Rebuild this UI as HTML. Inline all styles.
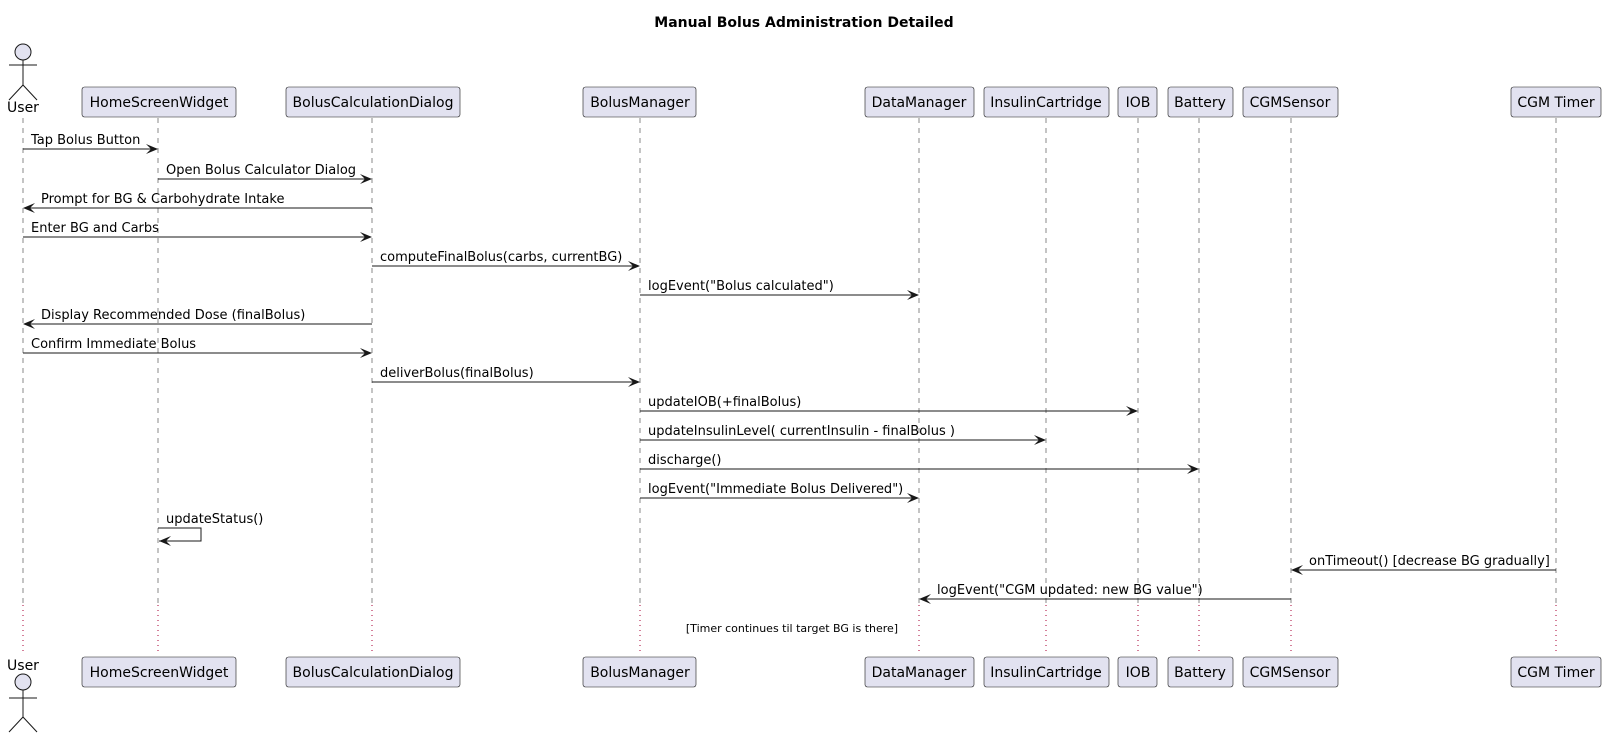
<!DOCTYPE html>
<html><head><meta charset="utf-8"><style>
html,body{margin:0;padding:0;background:#fff;}
svg{display:block;font-family:"DejaVu Sans","Liberation Sans",sans-serif;}
</style></head><body>
<svg width="1609" height="738" viewBox="0 0 1609 738" xmlns="http://www.w3.org/2000/svg">
<text x="804" y="27" text-anchor="middle" font-size="14" font-weight="bold">Manual Bolus Administration Detailed</text>
<g stroke="#888" stroke-width="1" stroke-dasharray="5,5">
<line x1="23" y1="118" x2="23" y2="603"/><line x1="158" y1="118" x2="158" y2="603"/>
<line x1="372" y1="118" x2="372" y2="603"/><line x1="640" y1="118" x2="640" y2="603"/>
<line x1="919" y1="118" x2="919" y2="603"/><line x1="1046" y1="118" x2="1046" y2="603"/>
<line x1="1138" y1="118" x2="1138" y2="603"/><line x1="1199" y1="118" x2="1199" y2="603"/>
<line x1="1291" y1="118" x2="1291" y2="603"/><line x1="1556" y1="118" x2="1556" y2="603"/>
</g>
<g stroke="#a80036" stroke-width="1" stroke-dasharray="1,4">
<line x1="23" y1="605" x2="23" y2="655"/><line x1="158" y1="605" x2="158" y2="655"/>
<line x1="372" y1="605" x2="372" y2="655"/><line x1="640" y1="605" x2="640" y2="655"/>
<line x1="919" y1="605" x2="919" y2="655"/><line x1="1046" y1="605" x2="1046" y2="655"/>
<line x1="1138" y1="605" x2="1138" y2="655"/><line x1="1199" y1="605" x2="1199" y2="655"/>
<line x1="1291" y1="605" x2="1291" y2="655"/><line x1="1556" y1="605" x2="1556" y2="655"/>
</g>
<text x="792" y="632" text-anchor="middle" font-size="11">[Timer continues til target BG is there]</text>
<g fill="#e2e2f0" stroke="#181818" stroke-width="1">
<circle cx="23" cy="52" r="8"/><line x1="23" y1="60" x2="23" y2="85"/><line x1="9" y1="65" x2="37" y2="65"/>
<line x1="23" y1="85" x2="9" y2="100"/><line x1="23" y1="85" x2="37" y2="100"/>
<circle cx="23" cy="682" r="8"/><line x1="23" y1="690" x2="23" y2="717"/><line x1="9" y1="698" x2="37" y2="698"/>
<line x1="23" y1="717" x2="9" y2="732"/><line x1="23" y1="717" x2="37" y2="732"/>
</g>
<g font-size="14" text-anchor="middle">
<text x="23" y="112">User</text><text x="23" y="670">User</text>
</g>
<g fill="#e2e2f0" stroke="#181818" stroke-width="0.6">
<rect x="82" y="87" width="154" height="30" rx="2.5"/><rect x="286" y="87" width="174" height="30" rx="2.5"/>
<rect x="583" y="87" width="113" height="30" rx="2.5"/><rect x="865" y="87" width="109" height="30" rx="2.5"/>
<rect x="984" y="87" width="125" height="30" rx="2.5"/><rect x="1118" y="87" width="39" height="30" rx="2.5"/>
<rect x="1168" y="87" width="65" height="30" rx="2.5"/><rect x="1243" y="87" width="95" height="30" rx="2.5"/>
<rect x="1511" y="87" width="90" height="30" rx="2.5"/>
<rect x="82" y="657" width="154" height="30" rx="2.5"/><rect x="286" y="657" width="174" height="30" rx="2.5"/>
<rect x="583" y="657" width="113" height="30" rx="2.5"/><rect x="865" y="657" width="109" height="30" rx="2.5"/>
<rect x="984" y="657" width="125" height="30" rx="2.5"/><rect x="1118" y="657" width="39" height="30" rx="2.5"/>
<rect x="1168" y="657" width="65" height="30" rx="2.5"/><rect x="1243" y="657" width="95" height="30" rx="2.5"/>
<rect x="1511" y="657" width="90" height="30" rx="2.5"/>
</g>
<g font-size="14" text-anchor="middle">
<text x="159" y="107">HomeScreenWidget</text><text x="373" y="107">BolusCalculationDialog</text>
<text x="640" y="107">BolusManager</text><text x="919" y="107">DataManager</text>
<text x="1046" y="107">InsulinCartridge</text><text x="1138" y="107">IOB</text>
<text x="1200" y="107">Battery</text><text x="1290" y="107">CGMSensor</text><text x="1556" y="107">CGM Timer</text>
<text x="159" y="677">HomeScreenWidget</text><text x="373" y="677">BolusCalculationDialog</text>
<text x="640" y="677">BolusManager</text><text x="919" y="677">DataManager</text>
<text x="1046" y="677">InsulinCartridge</text><text x="1138" y="677">IOB</text>
<text x="1200" y="677">Battery</text><text x="1290" y="677">CGMSensor</text><text x="1556" y="677">CGM Timer</text>
</g>
<g stroke="#181818" stroke-width="1">
<line x1="23" y1="149" x2="157" y2="149"/><line x1="158" y1="179" x2="371" y2="179"/>
<line x1="24" y1="208" x2="372" y2="208"/><line x1="23" y1="237" x2="371" y2="237"/>
<line x1="372" y1="266" x2="639" y2="266"/><line x1="640" y1="295" x2="918" y2="295"/>
<line x1="24" y1="324" x2="372" y2="324"/><line x1="23" y1="353" x2="371" y2="353"/>
<line x1="372" y1="382" x2="639" y2="382"/><line x1="640" y1="411" x2="1137" y2="411"/>
<line x1="640" y1="440" x2="1045" y2="440"/><line x1="640" y1="469" x2="1198" y2="469"/>
<line x1="640" y1="498" x2="918" y2="498"/>
<polyline points="158,528 201,528 201,541 159,541" fill="none"/>
<line x1="1292" y1="570" x2="1556" y2="570"/><line x1="920" y1="599" x2="1291" y2="599"/>
</g>
<g fill="#181818">
<polygon points="158,149 146,144 151,149 146,154"/><polygon points="372,179 360,174 365,179 360,184"/>
<polygon points="23,208 35,203 30,208 35,213"/><polygon points="372,237 360,232 365,237 360,242"/>
<polygon points="640,266 628,261 633,266 628,271"/><polygon points="919,295 907,290 912,295 907,300"/>
<polygon points="23,324 35,319 30,324 35,329"/><polygon points="372,353 360,348 365,353 360,358"/>
<polygon points="640,382 628,377 633,382 628,387"/><polygon points="1138,411 1126,406 1131,411 1126,416"/>
<polygon points="1046,440 1034,435 1039,440 1034,445"/><polygon points="1199,469 1187,464 1192,469 1187,474"/>
<polygon points="919,498 907,493 912,498 907,503"/><polygon points="159,541 171,536 166,541 171,546"/>
<polygon points="1291,570 1303,565 1298,570 1303,575"/><polygon points="919,599 931,594 926,599 931,604"/>
</g>
<g font-size="13">
<text x="31" y="144">Tap Bolus Button</text><text x="166" y="174">Open Bolus Calculator Dialog</text>
<text x="41" y="203">Prompt for BG &amp; Carbohydrate Intake</text><text x="31" y="232">Enter BG and Carbs</text>
<text x="380" y="261">computeFinalBolus(carbs, currentBG)</text><text x="648" y="290">logEvent("Bolus calculated")</text>
<text x="41" y="319">Display Recommended Dose (finalBolus)</text><text x="31" y="348">Confirm Immediate Bolus</text>
<text x="380" y="377">deliverBolus(finalBolus)</text><text x="648" y="406">updateIOB(+finalBolus)</text>
<text x="648" y="435">updateInsulinLevel( currentInsulin - finalBolus )</text><text x="648" y="464">discharge()</text>
<text x="648" y="493">logEvent("Immediate Bolus Delivered")</text><text x="166" y="523">updateStatus()</text>
<text x="1309" y="565">onTimeout() [decrease BG gradually]</text><text x="937" y="594">logEvent("CGM updated: new BG value")</text>
</g>
</svg>
</body></html>
